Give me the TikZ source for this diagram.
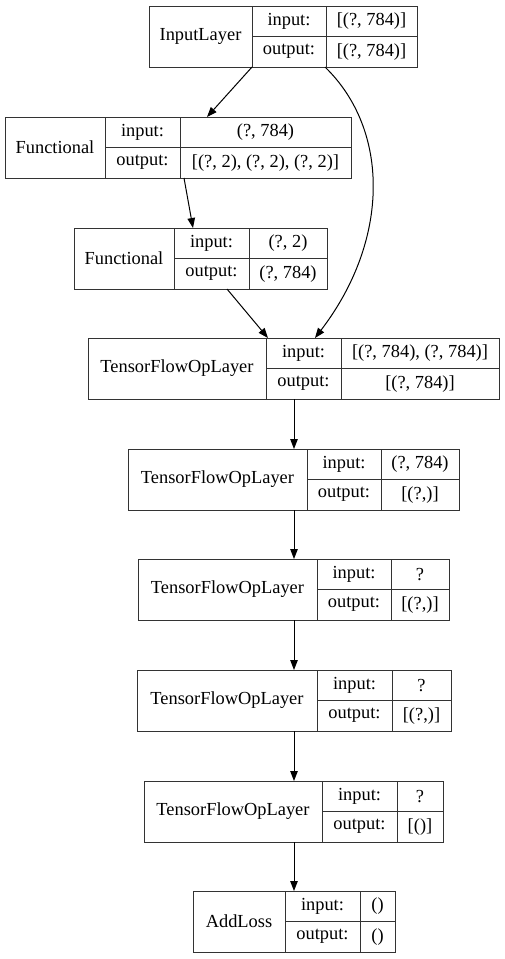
\documentclass[tikz,border=0pt]{standalone}
\usepackage{fontspec}
\setmainfont{Liberation Serif}
\usepackage{tikz}
\usetikzlibrary{arrows.meta,positioning}
\tikzstyle{celda} = [draw=black!80, line width=1pt, rectangle, inner sep=0pt, outer sep=0pt, minimum height=30.5pt, anchor=north west, font=\fontsize{18.4}{20}\selectfont]
\tikzstyle{nombre} = [celda, minimum height=61pt]
\tikzstyle{flecha} = [draw=black, line width=1pt, -{Triangle[length=10pt,width=7.5pt]}]
% una capa: nombre, x, y, anchos de las tres columnas, texto, entrada, salida
\newcommand{\capa}[9]{%
  \node[nombre, minimum width=#4pt] (#1) at (#2,#3) {#7};
  \node[celda, minimum width=#5pt] (#1i) at (#1.north east) {input:};
  \node[celda, minimum width=#5pt] (#1o) at (#1i.south west) {output:};
  \node[celda, minimum width=#6pt] (#1iv) at (#1i.north east) {#8};
  \node[celda, minimum width=#6pt] (#1ov) at (#1iv.south west) {#9};
}

\begin{document}
\begin{tikzpicture}[x=1pt,y=-1pt]
\useasboundingbox (0,0) rectangle (505,959);
\capa{entrada}{149}{6}{103}{74}{91}{InputLayer}{[(?, 784)]}{[(?, 784)]}
\capa{func}{5}{117}{100}{75}{171}{Functional}{(?, 784)}{[(?, 2), (?, 2), (?, 2)]}
\capa{funcb}{74}{228}{100}{75}{78}{Functional}{(?, 2)}{(?, 784)}
\capa{opa}{88}{338}{178}{75}{158}{TensorFlowOpLayer}{[(?, 784), (?, 784)]}{[(?, 784)]}
\capa{opb}{128}{449}{179}{74}{78}{TensorFlowOpLayer}{(?, 784)}{[(?,)]}
\capa{opc}{138}{559}{179}{74}{58}{TensorFlowOpLayer}{?}{[(?,)]}
\capa{opd}{137}{670}{180}{75}{59}{TensorFlowOpLayer}{?}{[(?,)]}
\capa{ope}{144}{781}{178}{75}{46}{TensorFlowOpLayer}{?}{[()]}
\capa{perdida}{193}{891}{92}{75}{35}{AddLoss}{()}{()}
\coordinate (eje) at (294,0);

\draw[flecha] (entrada.south east) -- ([xshift=27pt]funciv.north west);
\draw[flecha] ([xshift=4pt]funcov.south west) -- ([xshift=19pt]funcbi.north west);
\draw[flecha] ([xshift=53pt]funcbo.south west) -- ([xshift=2pt]opai.north west);
\draw[flecha] ([xshift=-1pt]entradao.south east) .. controls (390,130) and (390,240) .. ([xshift=49pt]opai.north west);
\draw[flecha] (opao.south -| eje) -- (opb.north -| eje);
\draw[flecha] (opbo.south -| eje) -- (opc.north -| eje);
\draw[flecha] (opco.south -| eje) -- (opd.north -| eje);
\draw[flecha] (opdo.south -| eje) -- (ope.north -| eje);
\draw[flecha] (opeo.south -| eje) -- (perdida.north -| eje);
\end{tikzpicture}
\end{document}
